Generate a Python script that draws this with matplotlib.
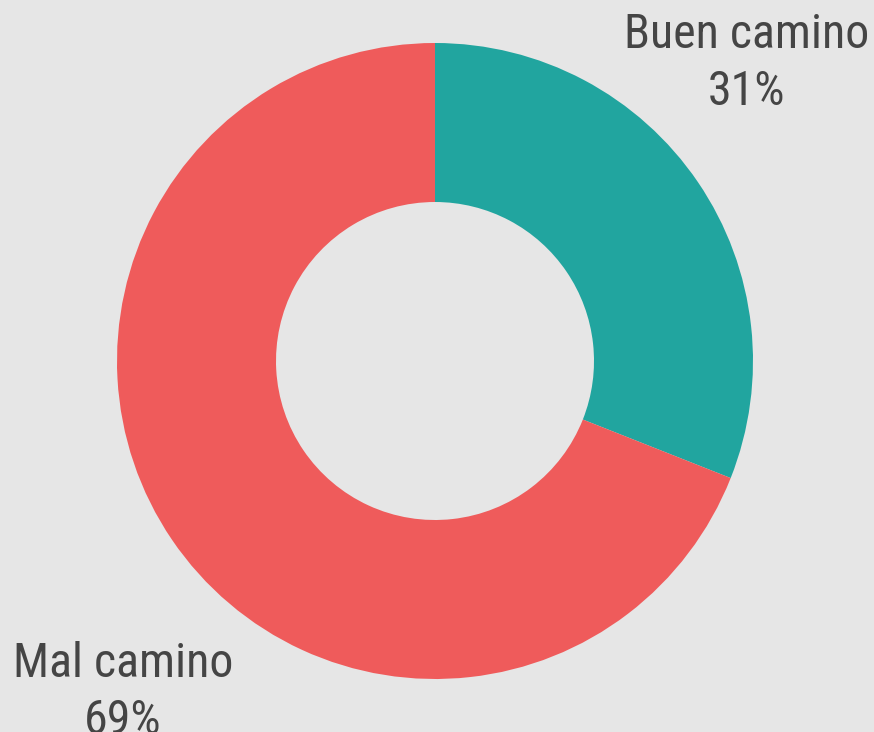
import matplotlib.pyplot as plt

labels = ['Buen camino', 'Mal camino']
values = [31, 69]
colors = ['#21a59f', '#ef5b5b']

plt.rcParams['font.family'] = ['Roboto Condensed', 'Roboto', 'DejaVu Sans']

bg = '#e6e6e6'
fig = plt.figure(figsize=(8.74, 7.32), dpi=100, facecolor=bg)
ax = fig.add_axes([0, 0, 1, 1])
ax.set_facecolor(bg)

# donut
ax.pie(values, colors=colors, startangle=90, counterclock=False,
       center=(435, 371), radius=318, frame=True,
       wedgeprops=dict(width=159, linewidth=0))
ax.set_xlim(0, 874)
ax.set_ylim(0, 732)
ax.set_aspect('equal')
ax.axis('off')

# labels (name on one line, percent below)
txt = '#454545'
label_pos = [(747, 684, 627), (123, 55, -2)]
for name, val, (x, y1, y2) in zip(labels, values, label_pos):
    ax.text(x, y1, name, ha='center', va='baseline', fontsize=34.5, color=txt)
    ax.text(x, y2, f'{val}%', ha='center', va='baseline', fontsize=34.5, color=txt)

plt.savefig('out.png', dpi=100, facecolor=bg)
